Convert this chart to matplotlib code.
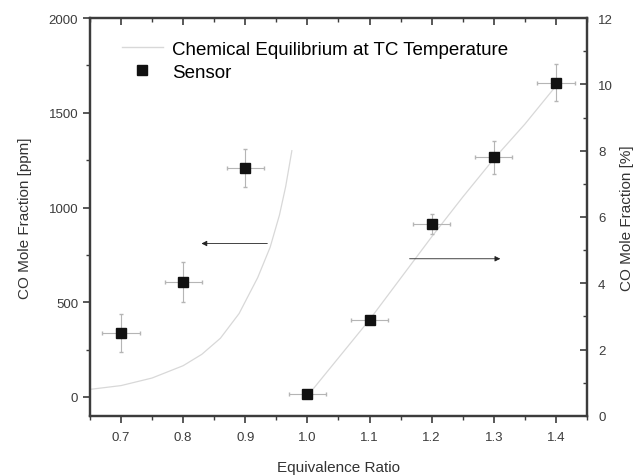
import numpy as np
import matplotlib
matplotlib.use("Agg")
import matplotlib.pyplot as plt
from matplotlib.lines import Line2D

plt.rcParams['font.family'] = ['Liberation Sans', 'DejaVu Sans']

# Sensor data, lean side (ppm, left axis)
lean_phi = [0.7, 0.8, 0.9]
lean_ppm = [337, 605, 1210]
lean_ppm_err = [100, 105, 100]

# Sensor data, rich side (%, right axis)
rich_phi = [1.0, 1.1, 1.2, 1.3, 1.4]
rich_pct = [0.65, 2.9, 5.8, 7.8, 10.05]
rich_pct_err = [0.08, 0.12, 0.3, 0.5, 0.55]

phi_err = 0.03

# Chemical equilibrium curves
eq_lean_phi = [0.65, 0.70, 0.75, 0.80, 0.83, 0.86, 0.89, 0.92, 0.94, 0.955, 0.965, 0.975]
eq_lean_ppm = [40, 60, 100, 165, 225, 310, 440, 630, 790, 960, 1110, 1300]
eq_rich_phi = [1.0, 1.05, 1.1, 1.15, 1.2, 1.25, 1.3, 1.35, 1.4]
eq_rich_pct = [0.6, 1.75, 2.9, 4.15, 5.4, 6.6, 7.75, 8.8, 9.95]

eq_color = '#d8d8d8'
err_color = '#b5b5b5'
spine_color = '#3c3c3c'

fig = plt.figure(figsize=(6.38, 4.77), dpi=100)
ax = fig.add_axes([0.141, 0.126, 0.779, 0.834])
ax2 = ax.twinx()

ax.plot(eq_lean_phi, eq_lean_ppm, color=eq_color, lw=0.9)
ax.errorbar(lean_phi, lean_ppm, xerr=phi_err, yerr=lean_ppm_err, fmt='s',
            color='#111111', ms=6.5, ecolor=err_color, elinewidth=0.8,
            capsize=1.5)

ax2.plot(eq_rich_phi, eq_rich_pct, color=eq_color, lw=0.9)
ax2.errorbar(rich_phi, rich_pct, xerr=phi_err, yerr=rich_pct_err, fmt='s',
             color='#111111', ms=6.5, ecolor=err_color, elinewidth=0.8,
             capsize=1.5)

# arrows pointing to the respective axis
ax.annotate('', xy=(0.825, 810), xytext=(0.94, 810),
            arrowprops=dict(arrowstyle='-|>', color='#222222', lw=0.6,
                            mutation_scale=8))
ax2.annotate('', xy=(1.315, 4.74), xytext=(1.16, 4.74),
             arrowprops=dict(arrowstyle='-|>', color='#222222', lw=0.6,
                             mutation_scale=8))

ax.set_xlim(0.65, 1.45)
ax.set_ylim(-100, 2000)
ax2.set_ylim(0, 12)

ax.set_xticks(np.arange(0.7, 1.41, 0.1))
ax.set_xticks(np.arange(0.65, 1.451, 0.05), minor=True)
ax.set_yticks([0, 500, 1000, 1500, 2000])
ax.set_yticks(np.arange(0, 2001, 250), minor=True)
ax2.set_yticks([0, 2, 4, 6, 8, 10, 12])
ax2.set_yticks(np.arange(0, 12.1, 1), minor=True)
ax.set_xticklabels(['0.7', '0.8', '0.9', '1.0', '1.1', '1.2', '1.3', '1.4'])

ax.tick_params(axis='x', which='both', direction='out', labelsize=9.5,
               colors=spine_color, pad=6)
ax.tick_params(axis='y', which='both', direction='out', labelsize=9.5,
               colors=spine_color)
ax2.tick_params(axis='y', which='both', direction='in', labelsize=9.5,
                colors=spine_color, pad=8)
for a in (ax, ax2):
    a.tick_params(which='major', length=5, width=1.2)
    a.tick_params(which='minor', length=3, width=1.0)

# top ticks pointing inward
top = ax.secondary_xaxis('top')
top.set_xticks(np.arange(0.7, 1.41, 0.1))
top.set_xticks(np.arange(0.65, 1.451, 0.05), minor=True)
top.tick_params(which='both', direction='in', labeltop=False, colors=spine_color)
top.tick_params(which='major', length=5, width=1.2)
top.tick_params(which='minor', length=3, width=1.0)
top.spines['top'].set_visible(False)

for a in (ax, ax2):
    for s in a.spines.values():
        s.set_linewidth(1.6)
        s.set_color(spine_color)

ax.set_xlabel('Equivalence Ratio', fontsize=11, color='#333333', labelpad=12)
ax.set_ylabel('CO Mole Fraction [ppm]', fontsize=11, color='#333333', labelpad=12)
ax2.set_ylabel('CO Mole Fraction [%]', fontsize=11, color='#333333', labelpad=5)

handles = [Line2D([], [], color=eq_color, lw=1.0),
           Line2D([], [], color='#111111', marker='s', ms=6.5, ls='none')]
labels = ['Chemical Equilibrium at TC Temperature', 'Sensor']
ax.legend(handles, labels, loc='upper left', frameon=False, fontsize=13.5,
          handlelength=2.2, handletextpad=0.5, labelspacing=0.3,
          bbox_to_anchor=(0.03, 0.985))

fig.savefig('out.png', dpi=100)
